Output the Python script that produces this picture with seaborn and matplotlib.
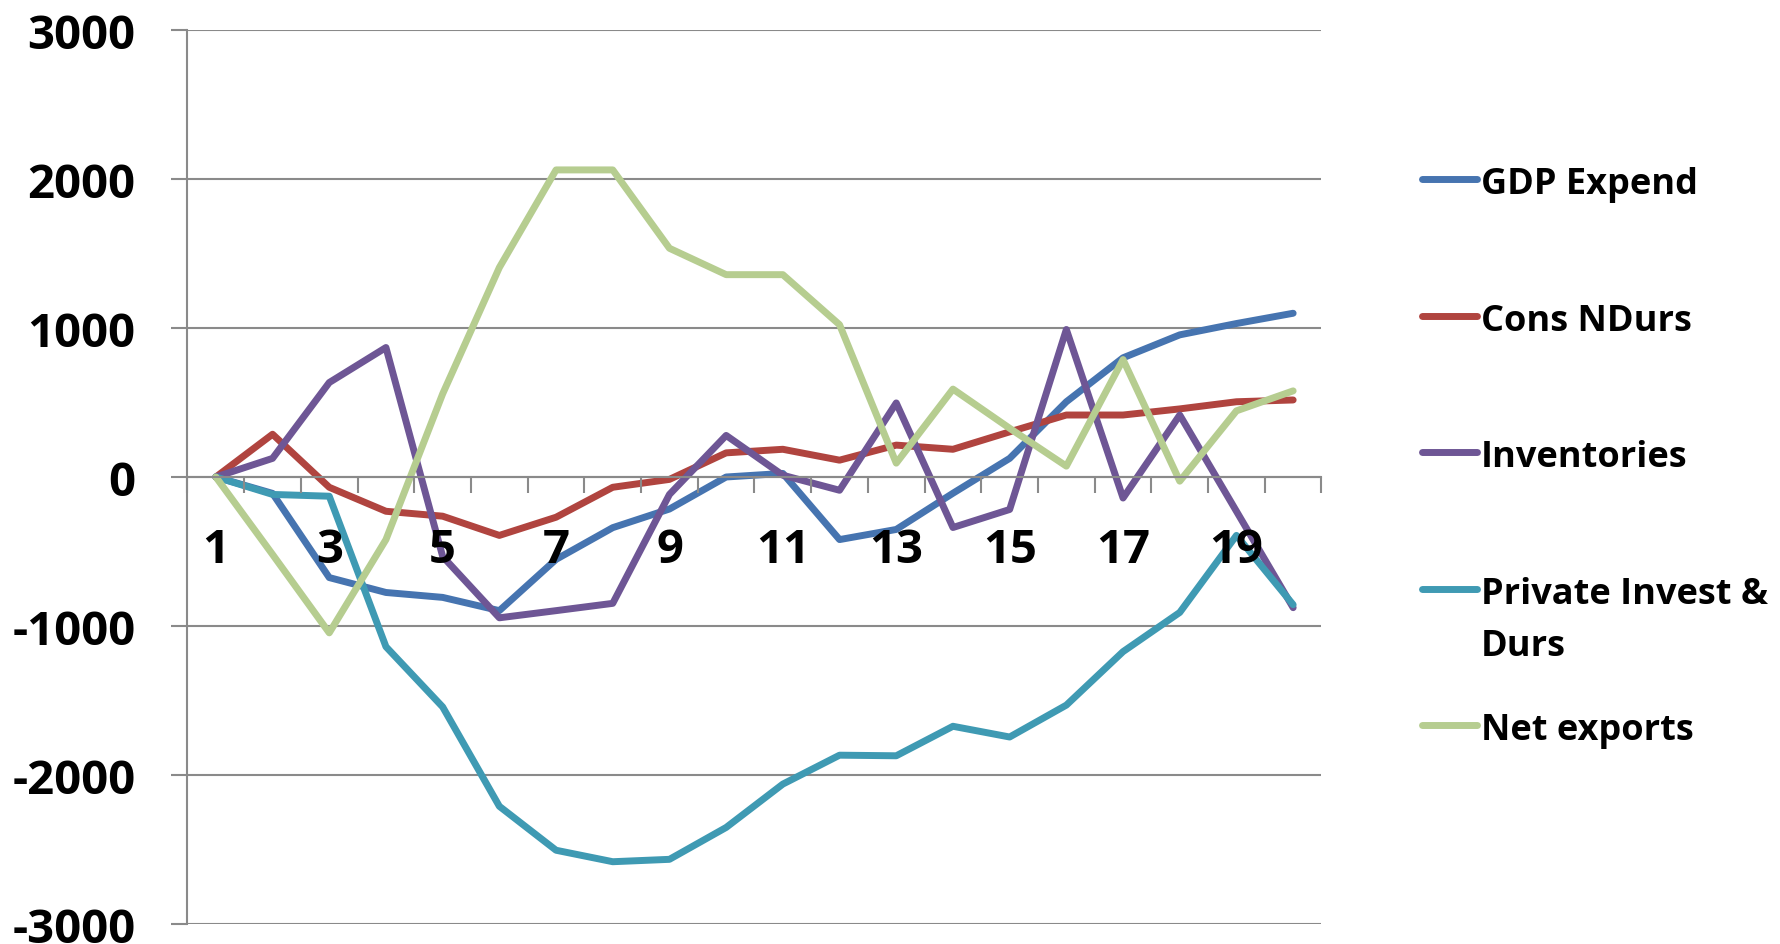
import numpy as np
import pandas as pd
import matplotlib
matplotlib.use("Agg")
import matplotlib.pyplot as plt
import seaborn as sns
from matplotlib.lines import Line2D
from matplotlib.ticker import FixedLocator, NullFormatter, FixedFormatter

periods = list(range(1, 21))
gdp_expend = [0, -110, -675, -775, -808, -897, -553, -340, -215, 0, 24, -420, -352, -109, 125, 505, 800, 954, 1030, 1099]
cons_ndurs = [0, 287, -69, -230, -263, -392, -270, -69, -16, 162, 186, 113, 214, 186, 303, 416, 416, 457, 505, 517]
inventories = [0, 125, 634, 869, -533, -945, -897, -848, -117, 279, 12, -89, 497, -339, -218, 990, -141, 416, -230, -877]
private_invest = [0, -117, -129, -1139, -1543, -2210, -2505, -2582, -2566, -2352, -2061, -1867, -1871, -1673, -1745, -1531, -1172, -909, -392, -857]
net_exports = [0, -520, -1046, -420, 558, 1406, 2061, 2061, 1535, 1358, 1358, 1022, 93, 590, 327, 73, 788, -28, 444, 578]

series_names = ["GDP Expend", "Cons NDurs", "Inventories", "Private Invest &\nDurs", "Net exports"]
series_values = [gdp_expend, cons_ndurs, inventories, private_invest, net_exports]
colors = ["#4674B0", "#B0443F", "#6E5695", "#3F9AB3", "#B6CD90"]
y_ticks = [-3000, -2000, -1000, 0, 1000, 2000, 3000]
x_labels = [1, 3, 5, 7, 9, 11, 13, 15, 17, 19]

df = pd.DataFrame({
    "period": np.tile(periods, len(series_names)),
    "value": np.concatenate(series_values),
    "series": np.repeat(series_names, len(periods)),
})

sns.set_theme(style="white")
plt.rcParams["font.family"] = ["Open Sans", "DejaVu Sans"]
plt.rcParams["font.weight"] = "bold"
plt.rcParams["axes.unicode_minus"] = False
plt.rcParams["text.color"] = "black"
plt.rcParams["xtick.labelcolor"] = "black"
plt.rcParams["ytick.labelcolor"] = "black"

fig = plt.figure(figsize=(17.81, 9.45), dpi=100)
ax = fig.add_axes([187.5 / 1781, 1 - 925 / 945, (1321.5 - 187.5) / 1781, (925 - 31) / 945])

sns.lineplot(data=df, x="period", y="value", hue="series", hue_order=series_names,
             palette=dict(zip(series_names, colors)), linewidth=5, legend=False, ax=ax,
             sort=False)
for ln in ax.get_lines():
    ln.set_solid_joinstyle("round")
    ln.set_solid_capstyle("round")

ax.set_xlim(0.5, 20.5)
ax.set_ylim(-3000, 3000)
ax.set_xlabel("")
ax.set_ylabel("")

grid_c = "#8A8A8A"
gw = 1.5
ax.yaxis.set_major_locator(FixedLocator(y_ticks))
ax.set_yticklabels([str(v) for v in y_ticks], fontsize=34, fontweight="bold", color="black")
ax.yaxis.grid(True, color=grid_c, linewidth=gw)
ax.tick_params(axis="y", which="major", direction="out", length=11.5, width=gw, color=grid_c, pad=26, left=True)

ax.xaxis.set_major_locator(FixedLocator(np.arange(0.5, 21, 1.0)))
ax.xaxis.set_major_formatter(NullFormatter())
ax.xaxis.set_minor_locator(FixedLocator(x_labels))
ax.xaxis.set_minor_formatter(FixedFormatter([str(v) for v in x_labels]))
ax.tick_params(axis="x", which="major", direction="out", length=11.5, width=gw, color=grid_c, bottom=True)
ax.tick_params(axis="x", which="minor", length=0, pad=35, labelsize=34, bottom=True, labelcolor="black")
for t in ax.xaxis.get_minorticklabels():
    t.set_fontweight("bold")
ax.xaxis.set_zorder(3)

for s in ["top", "right"]:
    ax.spines[s].set_visible(False)
ax.spines["left"].set_color(grid_c)
ax.spines["left"].set_linewidth(gw)
ax.spines["bottom"].set_position(("data", 0))
ax.spines["bottom"].set_color(grid_c)
ax.spines["bottom"].set_linewidth(gw)

# legend (manual, Excel-like: handle aligned with first line of wrapped label)
centers = [180, 317, 453, 590, 726]
line_gap = 52
for name, c, yc in zip(series_names, colors, centers):
    yf = 1 - yc / 945
    fig.add_artist(Line2D([1422 / 1781, 1477 / 1781], [yf, yf], transform=fig.transFigure,
                          color=c, linewidth=5, solid_capstyle="round"))
    for i, part in enumerate(name.split("\n")):
        fig.text(1481 / 1781, 1 - (yc + 14 + i * line_gap) / 945, part, fontsize=26,
                 fontweight="bold", va="baseline", ha="left", color="black")

fig.savefig("out.png", dpi=100, facecolor="white")
